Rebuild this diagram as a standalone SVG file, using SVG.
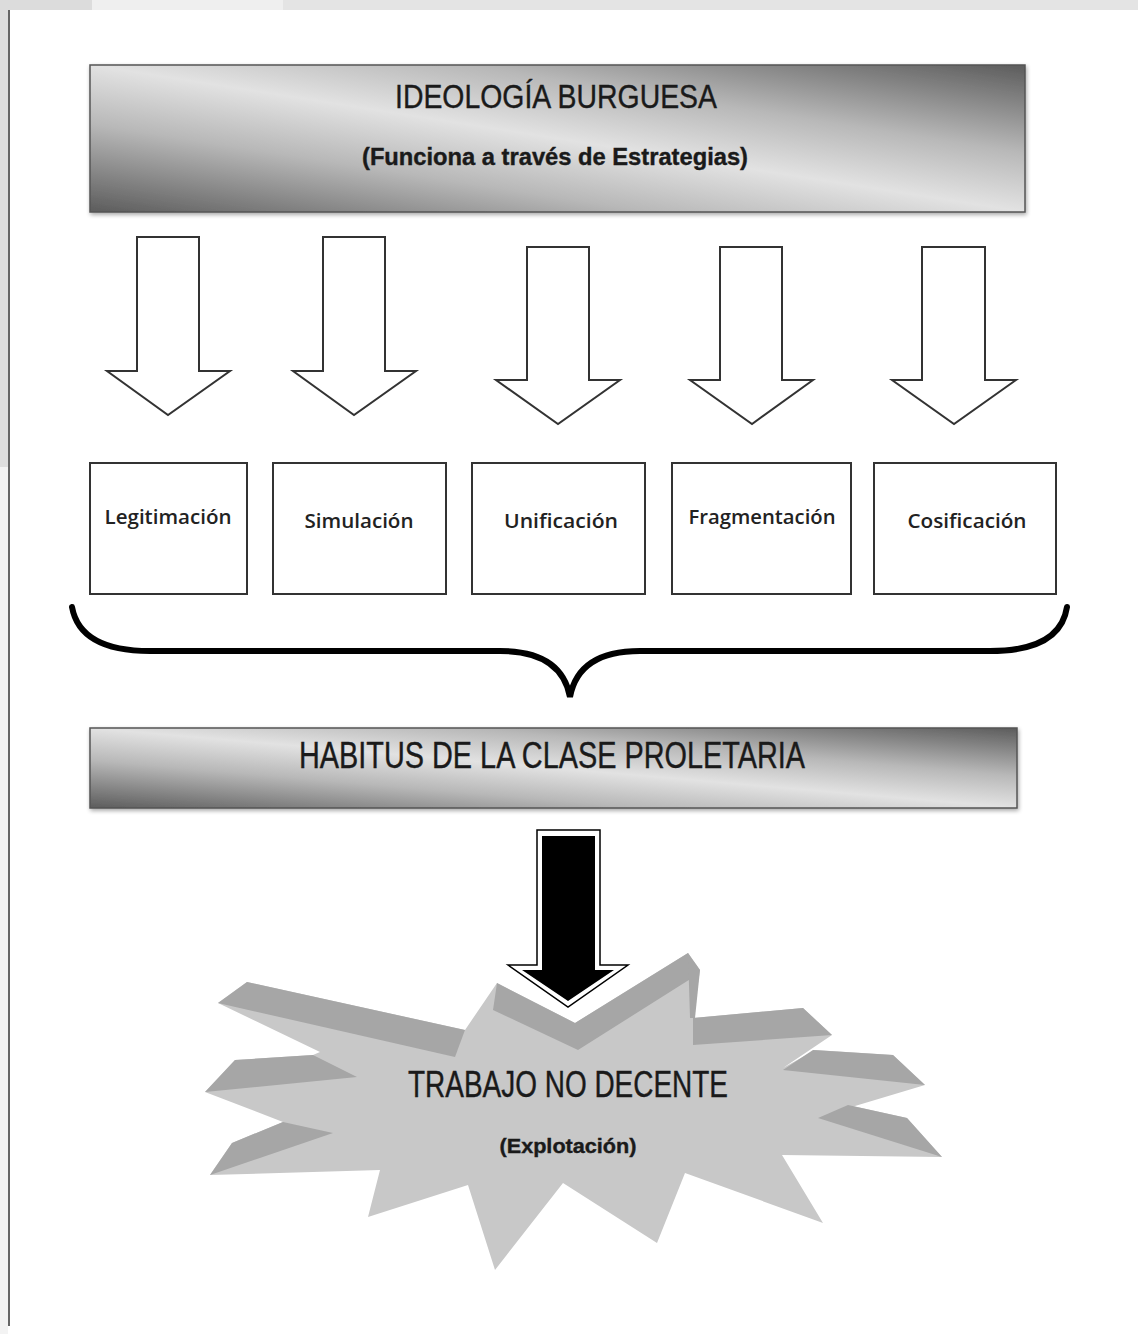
<svg xmlns="http://www.w3.org/2000/svg" width="1138" height="1334" viewBox="0 0 1138 1334">
<defs>
<linearGradient id="metal" x1="0" y1="1" x2="1" y2="0">
<stop offset="0" stop-color="#5c5c5c"/>
<stop offset="0.3" stop-color="#b8b8b8"/>
<stop offset="0.5" stop-color="#e2e2e2"/>
<stop offset="0.7" stop-color="#b8b8b8"/>
<stop offset="1" stop-color="#5c5c5c"/>
</linearGradient>
<filter id="sh" x="-5%" y="-20%" width="110%" height="140%">
<feGaussianBlur in="SourceAlpha" stdDeviation="2"/>
<feOffset dx="1" dy="2"/>
<feComponentTransfer><feFuncA type="linear" slope="0.35"/></feComponentTransfer>
<feMerge><feMergeNode/><feMergeNode in="SourceGraphic"/></feMerge>
</filter>
</defs>
<style>
.bar{fill:url(#metal);stroke:#555;stroke-width:1.5}
.box{fill:#fff;stroke:#333;stroke-width:2}
.harrow{fill:#fff;stroke:#333;stroke-width:2;stroke-linejoin:miter}
.big{font-family:"Liberation Sans",Arial,sans-serif;fill:#1a1a1a;stroke:#1a1a1a;stroke-width:0.4;text-anchor:middle}
.lbl{font-family:"Open Sans","Liberation Sans",sans-serif;font-weight:600;font-size:20px;fill:#222;text-anchor:middle}
.lite{fill:#c8c8c8}
.dark{fill:#a6a6a6}
</style>
<rect x="0" y="0" width="1138" height="1334" fill="#ffffff"/>
<g id="frame">
<rect x="0" y="0" width="92" height="10" fill="#dcdcdc"/>
<rect x="92" y="0" width="191" height="10" fill="#efefef"/>
<rect x="283" y="0" width="855" height="10" fill="#e4e4e4"/>
<rect x="0" y="10" width="8" height="457" fill="#dedede"/>
<rect x="0" y="467" width="8" height="867" fill="#f3f3f3"/>
<line x1="9" y1="10" x2="9" y2="1326" stroke="#666" stroke-width="2"/>
</g>
<g id="ideologia">
<rect class="bar" x="90" y="65" width="935" height="147" filter="url(#sh)"/>
<text class="big" x="556" y="108" font-size="34" textLength="322" lengthAdjust="spacingAndGlyphs">IDEOLOGÍA BURGUESA</text>
<text class="big" x="555" y="165" font-size="24" font-weight="bold" stroke-width="0" textLength="386" lengthAdjust="spacingAndGlyphs">(Funciona a través de Estrategias)</text>
</g>
<g id="connectors">
<polygon class="harrow" points="137,237 199,237 199,371 230,371 168,415 107,371 137,371"/>
<polygon class="harrow" points="323,237 385,237 385,371 416,371 354,415 293,371 323,371"/>
<polygon class="harrow" points="527,247 589,247 589,380 620,380 558,424 496,380 527,380"/>
<polygon class="harrow" points="720,247 782,247 782,380 813,380 752,424 690,380 720,380"/>
<polygon class="harrow" points="922,247 985,247 985,380 1016,380 954,424 892,380 922,380"/>
<path d="M72,607 C78,640 110,651 150,651 L500,651 C545,651 565,670 570,697 C575,670 595,651 640,651 L990,651 C1030,651 1062,640 1067,607" fill="none" stroke="#000" stroke-width="6" stroke-linecap="round"/>
<g id="blackarrow">
<polygon points="537,830 600,830 600,965 628,965 568,1007 508,965 537,965" fill="#fff" stroke="#000" stroke-width="1.5"/>
<polygon points="542,836 595,836 595,970 614,970 568,1001 522,970 542,970" fill="#000"/>
</g>
</g>
<g id="legitimacion"><rect class="box" x="90" y="463" width="157" height="131"/><text class="lbl" x="168" y="524" textLength="127" lengthAdjust="spacingAndGlyphs">Legitimación</text></g>
<g id="simulacion"><rect class="box" x="273" y="463" width="173" height="131"/><text class="lbl" x="359" y="528" textLength="109" lengthAdjust="spacingAndGlyphs">Simulación</text></g>
<g id="unificacion"><rect class="box" x="472" y="463" width="173" height="131"/><text class="lbl" x="561" y="528" textLength="114" lengthAdjust="spacingAndGlyphs">Unificación</text></g>
<g id="fragmentacion"><rect class="box" x="672" y="463" width="179" height="131"/><text class="lbl" x="762" y="524" textLength="147" lengthAdjust="spacingAndGlyphs">Fragmentación</text></g>
<g id="cosificacion"><rect class="box" x="874" y="463" width="182" height="131"/><text class="lbl" x="967" y="528" textLength="119" lengthAdjust="spacingAndGlyphs">Cosificación</text></g>
<g id="habitus">
<rect class="bar" x="90" y="728" width="927" height="80" filter="url(#sh)"/>
<text class="big" x="552" y="768" font-size="36" textLength="506" lengthAdjust="spacingAndGlyphs">HABITUS DE LA CLASE PROLETARIA</text>
</g>
<g id="trabajo">
<polygon class="lite" points="497,983 575,1023 688,953 700,970 693,1018 803,1008 832,1035 783,1068 815,1050 893,1055 925,1085 815,1118 848,1105 907,1118 942,1157 782,1155 823,1223 685,1173 657,1243 563,1183 495,1270 468,1185 368,1217 380,1170 210,1175 232,1143 283,1122 205,1092 235,1060 313,1055 320,1052 218,1003 247,982 465,1030"/>
<polygon class="dark" points="218,1003 247,982 465,1030 455,1057"/>
<polygon class="dark" points="205,1092 235,1060 313,1055 357,1077"/>
<polygon class="dark" points="210,1175 232,1143 283,1122 333,1133"/>
<polygon class="dark" points="497,983 575,1023 688,953 692,978 578,1050 493,1010"/>
<polygon class="dark" points="688,953 700,970 695,1018 690,1018"/>
<polygon class="dark" points="693,1018 803,1008 832,1035 693,1045"/>
<polygon class="dark" points="783,1070 813,1050 893,1055 925,1085"/>
<polygon class="dark" points="818,1118 848,1105 907,1118 942,1157"/>
<text class="big" x="568" y="1097" font-size="36" textLength="320" lengthAdjust="spacingAndGlyphs">TRABAJO NO DECENTE</text>
<text class="big" x="568" y="1153" font-size="21" font-weight="bold" stroke-width="0" textLength="137" lengthAdjust="spacingAndGlyphs">(Explotación)</text>
</g>
</svg>
